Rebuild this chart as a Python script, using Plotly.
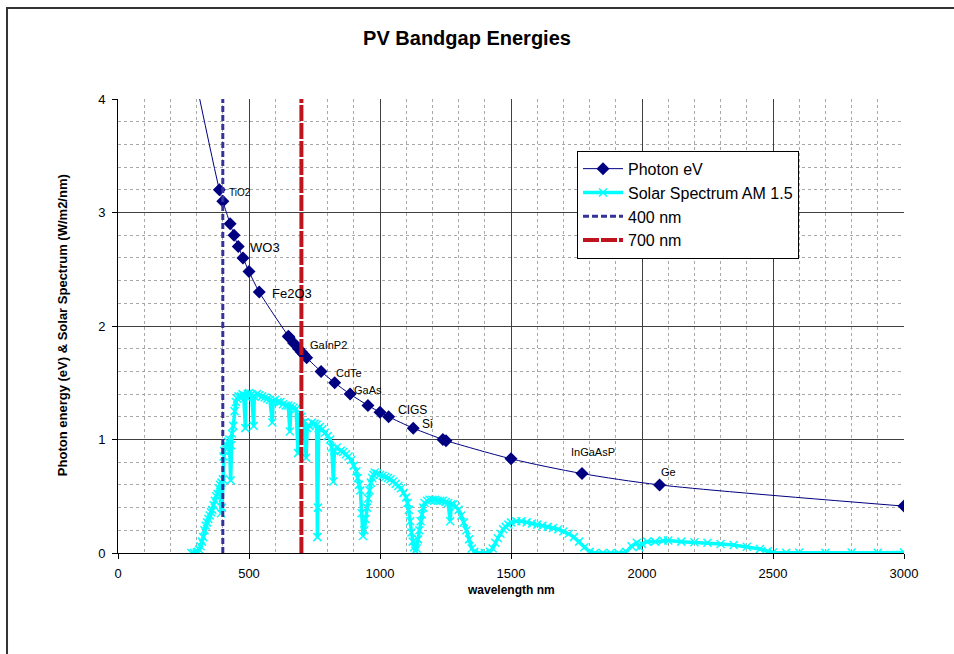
import plotly.graph_objects as go

# Photon energy series: wavelength (nm) and energy (eV) at each plotted marker
photon_nm = [300, 387, 400, 428, 443, 459, 477, 500, 539, 650, 653, 670, 689, 700,
             709, 720, 775, 827, 886, 954, 1000, 1033, 1127, 1240, 1252, 1500,
             1771, 2067, 3000]
photon_ev = [4.13, 3.2, 3.1, 2.9, 2.8, 2.7, 2.6, 2.48, 2.3, 1.91, 1.9, 1.85, 1.8, 1.77,
             1.75, 1.72, 1.6, 1.5, 1.4, 1.3, 1.24, 1.2, 1.1, 1.0, 0.99, 0.83,
             0.7, 0.6, 0.413]

# Solar spectrum AM 1.5 (W/m2/nm)
solar_nm = [280, 290, 300, 305, 310, 315, 320, 325, 330, 335, 340, 345, 350, 355, 360,
            365, 370, 375, 380, 385, 390, 393, 395, 397, 400, 403, 405, 410, 415, 420,
            425, 430, 432, 435, 440, 445, 450, 455, 460, 465, 470, 475, 480, 486, 488,
            495, 500, 510, 518, 520, 530, 540, 550, 560, 570, 580, 589, 592, 600, 610,
            620, 630, 640, 650, 656, 660, 670, 680, 687, 690, 700, 710, 718, 722, 730,
            740, 750, 758, 761, 763, 766, 770, 780, 790, 800, 810, 816, 822, 826, 835,
            850, 860, 870, 880, 890, 900, 910, 915, 920, 925, 930, 935, 940, 945, 950,
            955, 960, 965, 970, 975, 980, 990, 1000, 1010, 1020, 1030, 1040, 1050, 1060,
            1070, 1080, 1090, 1100, 1105, 1110, 1115, 1120, 1125, 1130, 1135, 1140, 1145,
            1150, 1155, 1160, 1165, 1170, 1180, 1190, 1200, 1210, 1220, 1230, 1240, 1250,
            1260, 1268, 1272, 1280, 1290, 1300, 1310, 1320, 1330, 1340, 1350, 1360, 1380,
            1400, 1420, 1430, 1440, 1450, 1460, 1470, 1480, 1490, 1500, 1520, 1540, 1560,
            1580, 1600, 1620, 1640, 1660, 1680, 1700, 1720, 1740, 1760, 1780, 1800, 1820,
            1850, 1880, 1910, 1940, 1960, 1980, 1990, 2000, 2020, 2050, 2080, 2100, 2150,
            2200, 2250, 2300, 2350, 2400, 2450, 2480, 2500, 2550, 2600, 2700, 2800, 2900,
            3000]
solar_w = [0.0, 0.0, 0.005, 0.01, 0.03, 0.06, 0.1, 0.14, 0.2, 0.24, 0.27, 0.3, 0.33, 0.36, 0.38,
           0.42, 0.46, 0.5, 0.52, 0.57, 0.6, 0.35, 0.62, 0.4, 0.65, 0.85, 0.9, 0.92, 0.95, 0.98,
           1.0, 0.64, 0.95, 1.05, 1.12, 1.25, 1.33, 1.36, 1.38, 1.37, 1.38, 1.4, 1.39, 1.1, 1.38,
           1.4, 1.41, 1.4, 1.12, 1.38, 1.4, 1.39, 1.38, 1.37, 1.36, 1.35, 1.15, 1.34, 1.35, 1.33,
           1.33, 1.31, 1.3, 1.3, 1.07, 1.29, 1.28, 1.27, 0.88, 1.22, 1.2, 1.15, 0.84, 1.1, 1.12,
           1.15, 1.14, 1.13, 0.14, 0.4, 1.1, 1.11, 1.09, 1.06, 1.03, 1.0, 0.93, 0.63, 0.9, 0.93,
           0.9, 0.89, 0.87, 0.85, 0.82, 0.77, 0.72, 0.66, 0.6, 0.55, 0.35, 0.15, 0.2, 0.3, 0.4,
           0.48, 0.55, 0.62, 0.66, 0.69, 0.71, 0.7, 0.69, 0.68, 0.67, 0.66, 0.65, 0.63, 0.61,
           0.59, 0.57, 0.53, 0.49, 0.44, 0.38, 0.28, 0.18, 0.1, 0.05, 0.02, 0.04, 0.12,
           0.2, 0.28, 0.34, 0.4, 0.44, 0.46, 0.47, 0.47, 0.47, 0.46, 0.46, 0.46, 0.45,
           0.44, 0.28, 0.43, 0.43, 0.41, 0.38, 0.33, 0.27, 0.2, 0.12, 0.04, 0.01, 0.0,
           0.0, 0.01, 0.04, 0.09, 0.13, 0.17, 0.21, 0.23, 0.25, 0.27, 0.28, 0.28, 0.27,
           0.26, 0.25, 0.24, 0.23, 0.22, 0.21, 0.19, 0.17, 0.14, 0.1, 0.05, 0.01, 0.0,
           0.0, 0.0, 0.0, 0.01, 0.06, 0.09, 0.05, 0.08, 0.1, 0.1, 0.11, 0.11, 0.1,
           0.095, 0.09, 0.08, 0.07, 0.055, 0.035, 0.015, 0.005, 0.003, 0.004, 0.003, 0.004, 0.003,
           0.004]

# Reference wavelengths drawn as vertical series
ref_400_nm = [400, 400]
ref_700_nm = [700, 700]
ref_ev = [0, 4]

# Material labels: text, wavelength, energy, font size
label_text = ["TiO2", "WO3", "Fe2O3", "GaInP2", "CdTe", "GaAs", "CIGS", "Si", "InGaAsP", "Ge"]
label_nm = [416, 496, 580, 725, 824, 893, 1061, 1152, 1721, 2065]
label_ev = [3.18, 2.69, 2.29, 1.83, 1.59, 1.44, 1.26, 1.14, 0.89, 0.71]
label_size = [10, 13, 13, 11, 11, 11, 12, 12, 11, 11]

FONT = "Arial, Liberation Sans, sans-serif"

fig = go.Figure()

fig.add_trace(go.Scatter(
    x=photon_nm, y=photon_ev, name="Photon eV", mode="lines+markers",
    line=dict(color="#000080", width=1, shape="spline", smoothing=0.8),
    marker=dict(symbol="diamond", size=10, color="#000080"),
))
fig.add_trace(go.Scatter(
    x=solar_nm, y=solar_w, name="Solar Spectrum AM 1.5", mode="lines+markers",
    line=dict(color="#00FFFF", width=3.5),
    marker=dict(symbol="x-thin", size=8, color="#00FFFF",
                line=dict(color="#00FFFF", width=1.5)),
))
fig.add_trace(go.Scatter(
    x=ref_400_nm, y=ref_ev, name="400 nm", mode="lines",
    line=dict(color="#333399", width=3, dash="6px,3px"),
))
fig.add_trace(go.Scatter(
    x=ref_700_nm, y=ref_ev, name="700 nm", mode="lines",
    line=dict(color="#C0141C", width=4, dash="16px,2px"),
))

for t, x, y, s in zip(label_text, label_nm, label_ev, label_size):
    fig.add_annotation(x=x, y=y, text=t, showarrow=False, xanchor="left",
                       yanchor="middle", font=dict(family=FONT, size=s, color="#000000"))

# Axis titles
fig.add_annotation(xref="paper", yref="paper", x=0.5, y=-0.0815,
                   xanchor="center", yanchor="middle",
                   text="<b>wavelength nm</b>", showarrow=False,
                   font=dict(family=FONT, size=12, color="#000000"))
fig.add_annotation(xref="paper", yref="paper", x=-0.0712, y=0.502,
                   xanchor="center", yanchor="middle",
                   text="<b>Photon energy (eV) & Solar Spectrum (W/m2/nm)</b>",
                   textangle=-90, showarrow=False,
                   font=dict(family=FONT, size=13, color="#000000"))

# Chart frame
fig.add_shape(type="rect", xref="paper", yref="paper",
              x0=-0.1412, x1=1.2, y0=-0.5, y1=1.2004,
              line=dict(color="#333333", width=2), fillcolor="rgba(0,0,0,0)", layer="below")

fig.update_layout(
    width=954, height=654,
    margin=dict(l=118, r=50, t=99, b=101),
    paper_bgcolor="white", plot_bgcolor="white",
    font=dict(family=FONT, size=13, color="#000000"),
    title=dict(text="<b>PV Bandgap Energies</b>", x=467 / 954, xref="container",
               xanchor="center", y=1 - 38 / 654, yref="container", yanchor="middle",
               font=dict(family=FONT, size=20, color="#000000")),
    showlegend=True,
    legend=dict(x=0.584, y=0.886, xanchor="left", yanchor="top",
                bgcolor="white", bordercolor="#000000", borderwidth=1,
                font=dict(family=FONT, size=16, color="#000000"),
                itemwidth=40, tracegroupgap=0),
)

fig.update_xaxes(
    range=[0, 3000], tickmode="linear", tick0=0, dtick=500,
    showgrid=True, gridcolor="#404040", gridwidth=1,
    showline=True, linecolor="#000000", linewidth=1, mirror=False,
    ticks="outside", ticklen=5, tickcolor="#000000", zeroline=False,
    ticklabelstandoff=3,
    tickfont=dict(family=FONT, size=13),
    minor=dict(dtick=100, showgrid=True, gridcolor="#a8a8a8", griddash="dot", gridwidth=1),
)
fig.update_yaxes(
    range=[0, 4], tickmode="linear", tick0=0, dtick=1,
    showgrid=True, gridcolor="#404040", gridwidth=1,
    showline=True, linecolor="#000000", linewidth=1,
    ticks="outside", ticklen=5, tickcolor="#000000", zeroline=False,
    ticklabelstandoff=4,
    tickfont=dict(family=FONT, size=13),
    minor=dict(dtick=0.2, showgrid=True, gridcolor="#a8a8a8", griddash="dot", gridwidth=1),
)

fig.write_html("out.html")
